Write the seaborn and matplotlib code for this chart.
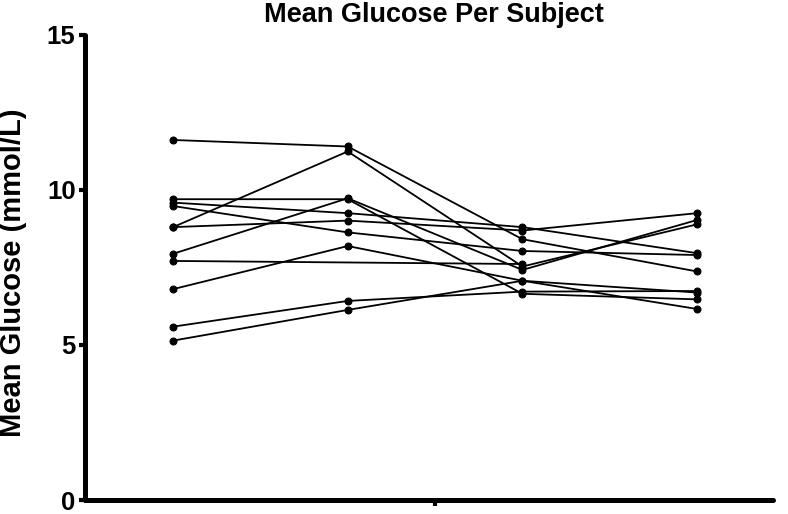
import numpy as np
import pandas as pd
import seaborn as sns
import matplotlib.pyplot as plt

# mean glucose (mmol/L) per subject at four visits, NaN = missing
visits = [0, 1, 2, 3]
s1 = [11.61, 11.40, 8.41, 7.37]
s2 = [9.70, 9.70, 6.65, 6.47]
s3 = [9.59, 9.25, 8.80, 7.96]
s4 = [9.48, 8.63, 8.03, 7.90]
s5 = [8.80, 11.24, 7.53, 8.89]
s6 = [8.80, 9.01, 8.69, 9.25]
s7 = [7.94, 9.73, 7.42, 9.03]
s8 = [7.71, np.nan, 7.61, np.nan]
s9 = [6.80, 8.19, 7.07, 6.16]
s10 = [5.59, 6.42, 6.72, 6.74]
s11 = [5.14, 6.13, 7.07, 6.69]
subjects = [s1, s2, s3, s4, s5, s6, s7, s8, s9, s10, s11]

rows = []
for i, vals in enumerate(subjects):
    for v, g in zip(visits, vals):
        rows.append({'subject': i, 'visit': v, 'glucose': g})
df = pd.DataFrame(rows).dropna()

sns.set_style('ticks')
plt.rcParams['font.family'] = ['Liberation Sans', 'DejaVu Sans']
plt.rcParams['text.color'] = 'black'
plt.rcParams['axes.labelcolor'] = 'black'
plt.rcParams['axes.edgecolor'] = 'black'
plt.rcParams['xtick.color'] = 'black'
plt.rcParams['ytick.color'] = 'black'

fig = plt.figure(figsize=(7.88, 5.14), dpi=100)
ax = fig.add_axes([0.1079, 0.0272, 0.873, 0.905])

sns.lineplot(data=df, x='visit', y='glucose', units='subject', estimator=None,
             color='black', linewidth=1.3, marker='o', markersize=5,
             markeredgecolor='black', ax=ax, legend=False)

ax.set_xlim(-0.504, 3.434)
ax.set_ylim(0, 15)
ax.set_yticks([0, 5, 10, 15])
ax.set_xticks([1.5])
ax.set_xticklabels([''])
ax.set_xlabel('')
ax.set_ylabel('Mean Glucose (mmol/L)', fontsize=21, fontweight='bold')
ax.yaxis.set_label_coords(-0.084, 0.488)
ax.set_title('Mean Glucose Per Subject', fontsize=19.5, fontweight='bold',
             x=0.507, pad=9)

sns.despine(ax=ax)
for side in ['left', 'bottom']:
    ax.spines[side].set_linewidth(3.6)
    ax.spines[side].set_capstyle('round')
ax.tick_params(axis='both', width=3, length=4.3, labelsize=18.5, pad=2.5)
for lab in ax.get_yticklabels():
    lab.set_fontweight('bold')

fig.savefig('out.png', dpi=100)
